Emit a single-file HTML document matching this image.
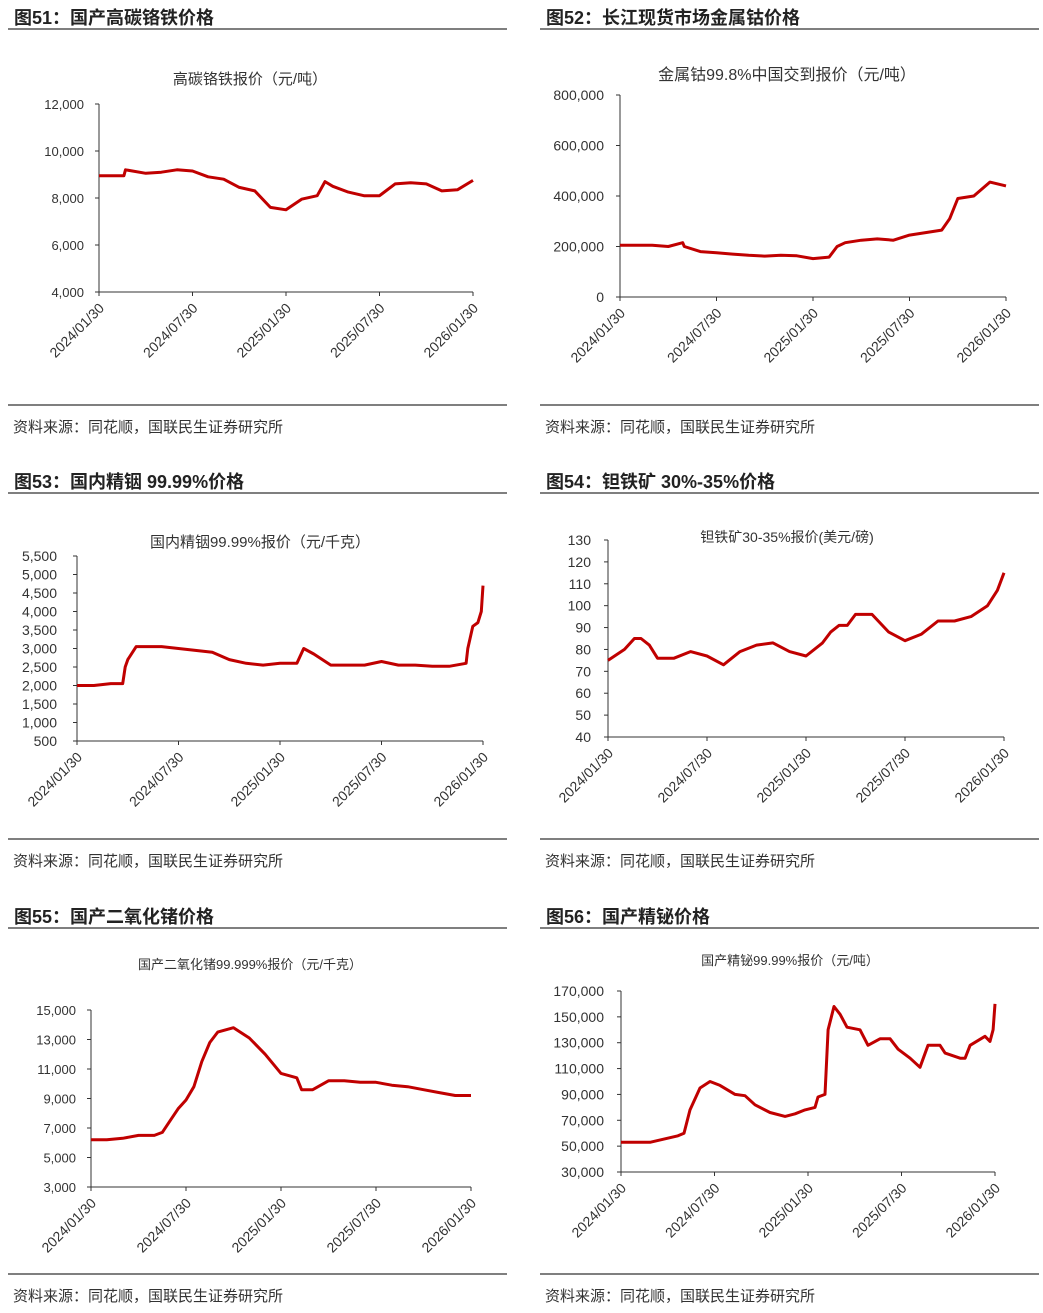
<!DOCTYPE html>
<html><head><meta charset="utf-8">
<style>
body{margin:0;background:#fff;width:1043px;height:1313px;overflow:hidden;font-family:"Liberation Sans","Noto Sans CJK SC",sans-serif;}
svg{position:absolute;left:0;top:0}
</style></head>
<body>
<svg id="s" width="1043" height="1313" xmlns="http://www.w3.org/2000/svg"></svg>
<script>
// ---- data ----
const tickLabels=["2024/01/30","2024/07/30","2025/01/30","2025/07/30","2026/01/30"];
const tickMonths=[0,6,12,18,24];
const c1Months=[0,1,1.6,1.7,3,4,5,6,7,8,9,10,11,12,13,14,14.5,15,16,17,18,19,20,21,22,23,24];
const c1Values=[8950,8950,8950,9200,9050,9100,9200,9150,8900,8800,8450,8300,7600,7500,7950,8100,8700,8500,8250,8100,8100,8600,8650,8600,8300,8350,8750];
const c1Ticks=[4000,6000,8000,10000,12000];
const c2Months=[0,1,2,3,3.9,4,5,6,7,8,9,10,11,12,13,13.5,14,15,16,17,18,19,20,20.5,21,22,23,24];
const c2Values=[205000,205000,205000,200000,215000,200000,180000,175000,170000,165000,162000,165000,163000,152000,158000,200000,215000,225000,230000,225000,245000,255000,265000,310000,390000,400000,455000,440000];
const c2Ticks=[0,200000,400000,600000,800000];
const c3Months=[0,1,2,2.7,2.85,3,3.5,4,5,6,7,8,9,10,11,12,13,13.4,14,15,16,17,18,19,20,21,22,23,23.1,23.4,23.7,23.9,24];
const c3Values=[2000,2000,2050,2050,2500,2700,3050,3050,3050,3000,2950,2900,2700,2600,2550,2600,2600,3000,2850,2550,2550,2550,2650,2550,2550,2520,2520,2600,3000,3600,3700,4000,4700];
const c3Ticks=[500,1000,1500,2000,2500,3000,3500,4000,4500,5000,5500];
const c4Months=[0,1,1.6,2,2.5,3,4,5,6,7,8,9,10,11,12,13,13.5,14,14.5,15,16,17,18,19,20,21,22,23,23.6,24];
const c4Values=[75,80,85,85,82,76,76,79,77,73,79,82,83,79,77,83,88,91,91,96,96,88,84,87,93,93,95,100,107,115];
const c4Ticks=[40,50,60,70,80,90,100,110,120,130];
const c5Months=[0,1,2,3,4,4.5,5,5.5,6,6.5,7,7.5,8,9,10,11,12,13,13.3,14,15,16,17,18,19,20,21,22,23,24];
const c5Values=[6200,6200,6300,6500,6500,6700,7500,8300,8900,9800,11500,12800,13500,13800,13100,12000,10700,10400,9600,9600,10200,10200,10100,10100,9900,9800,9600,9400,9200,9200];
const c5Ticks=[3000,5000,7000,9000,11000,13000,15000];
const c6Months=[0,1.86,3.66,4.04,4.43,5.07,5.71,6.35,7.32,7.96,8.6,9.56,10.53,11.17,11.81,12.45,12.64,13.09,13.29,13.67,14.06,14.5,15.34,15.85,16.62,17.27,17.78,18.55,19.19,19.7,20.47,20.8,21.76,22.08,22.4,23.36,23.68,23.88,24];
const c6Values=[53000,53000,58000,60000,78000,95000,100000,97000,90000,89000,82000,76000,73000,75000,78000,80000,88000,90000,140000,158000,152000,142000,140000,128000,133000,133000,125000,118000,111000,128000,128000,122000,118000,118000,128000,135000,131000,140000,160000];
const c6Ticks=[30000,50000,70000,90000,110000,130000,150000,170000];

const NS="http://www.w3.org/2000/svg";
const svg=document.getElementById('s');
function mk(tag,attrs,parent){const e=document.createElementNS(NS,tag);for(const k in attrs)e.setAttribute(k,attrs[k]);(parent||svg).appendChild(e);return e;}
function txt(x,y,s,size,attrs,parent){const t=mk('text',Object.assign({x:x,y:y,'font-size':size,fill:'#333'},attrs||{}),parent);t.textContent=s;return t;}
function fmt(v){return v.toLocaleString('en-US');}

function panel(px,top,bottom,title,id){
  const g=mk('g',{});
  
  
  const t=txt(px+6,top+7,title,18,{'font-weight':'bold',fill:'#222'},g);
  
  
  const l1=mk('line',{x1:px,x2:px+499,y1:top+12,y2:top+12,stroke:'#555','stroke-width':1.5},g);
  
  
  const l2=mk('line',{x1:px,x2:px+499,y1:bottom,y2:bottom,stroke:'#555','stroke-width':1.5},g);
  
  
  const s=txt(px+5,bottom+27,'资料来源：同花顺，国联民生证券研究所',15,{},g);
  
  
  return g;
}

function chart(id,o){
  const g=mk('g',{});
  
  
  const xs=m=>o.x0+m/24*(o.x1-o.x0);
  const ys=v=>o.yb-(v-o.vmin)/(o.vmax-o.vmin)*(o.yb-o.yt);
  const ct=txt(o.tx,o.ty,o.ctitle,o.tsize||15,{'text-anchor':'middle'},g);
  
  
  const ya=mk('line',{x1:o.x0,x2:o.x0,y1:o.yt,y2:o.yb,stroke:'#333','stroke-width':1},g);
  
  
  const xa=mk('line',{x1:o.x0,x2:o.x1,y1:o.yb,y2:o.yb,stroke:'#333','stroke-width':1},g);
  
  
  o.ticks.forEach(v=>{
    const y=ys(v);
    mk('line',{x1:o.x0-4,x2:o.x0,y1:y,y2:y,stroke:'#333'},g);
    const t=txt(o.x0-o.lgap,y+5,fmt(v),o.ysize||13,{'text-anchor':'end'},g);
    
    
  });
  tickMonths.forEach((m,i)=>{
    const x=xs(m);
    mk('line',{x1:x,x2:x,y1:o.yb,y2:o.yb+4,stroke:'#333'},g);
    const ax=x+6, ay=o.yb+17;
    const t=txt(ax,ay,tickLabels[i],14,{'text-anchor':'end',transform:'rotate(-45 '+ax+' '+ay+')'},g);
    
    
  });
  const d=o.months.map((m,i)=>(i?'L':'M')+xs(m).toFixed(1)+' '+ys(o.values[i]).toFixed(1)).join(' ');
  const p=mk('path',{d:d,fill:'none',stroke:'#c00000','stroke-width':3,'stroke-linejoin':'round'},g);
  
  
}

panel(8,17,405,'图51：国产高碳铬铁价格','fig51');
panel(540,17,405,'图52：长江现货市场金属钴价格','fig52');
panel(8,481,839,'图53：国内精铟 99.99%价格','fig53');
panel(540,481,839,'图54：钽铁矿 30%-35%价格','fig54');
panel(8,916,1274,'图55：国产二氧化锗价格','fig55');
panel(540,916,1274,'图56：国产精铋价格','fig56');

chart('fig51',{x0:99,x1:473,yt:104,yb:292,vmin:4000,vmax:12000,ticks:c1Ticks,months:c1Months,values:c1Values,tx:250,ty:84,ctitle:'高碳铬铁报价（元/吨）',lgap:15});
chart('fig52',{x0:620,x1:1006,yt:95,yb:297,vmin:0,vmax:800000,ticks:c2Ticks,months:c2Months,values:c2Values,tx:787,ty:80,ctitle:'金属钴99.8%中国交到报价（元/吨）',lgap:16,ysize:14,tsize:16});
chart('fig53',{x0:77,x1:483,yt:556,yb:741,vmin:500,vmax:5500,ticks:c3Ticks,months:c3Months,values:c3Values,tx:260,ty:547,ctitle:'国内精铟99.99%报价（元/千克）',lgap:20,ysize:14});
chart('fig54',{x0:608,x1:1004,yt:540,yb:737,vmin:40,vmax:130,ticks:c4Ticks,months:c4Months,values:c4Values,tx:787,ty:542,ctitle:'钽铁矿30-35%报价(美元/磅)',lgap:17,ysize:14,tsize:14});
chart('fig55',{x0:91,x1:471,yt:1010,yb:1187,vmin:3000,vmax:15000,ticks:c5Ticks,months:c5Months,values:c5Values,tx:250,ty:969,ctitle:'国产二氧化锗99.999%报价（元/千克）',lgap:15,tsize:13});
chart('fig56',{x0:621,x1:995,yt:991,yb:1172,vmin:30000,vmax:170000,ticks:c6Ticks,months:c6Months,values:c6Values,tx:790,ty:965,ctitle:'国产精铋99.99%报价（元/吨）',lgap:17,ysize:14,tsize:13});
</script>
</body></html>
